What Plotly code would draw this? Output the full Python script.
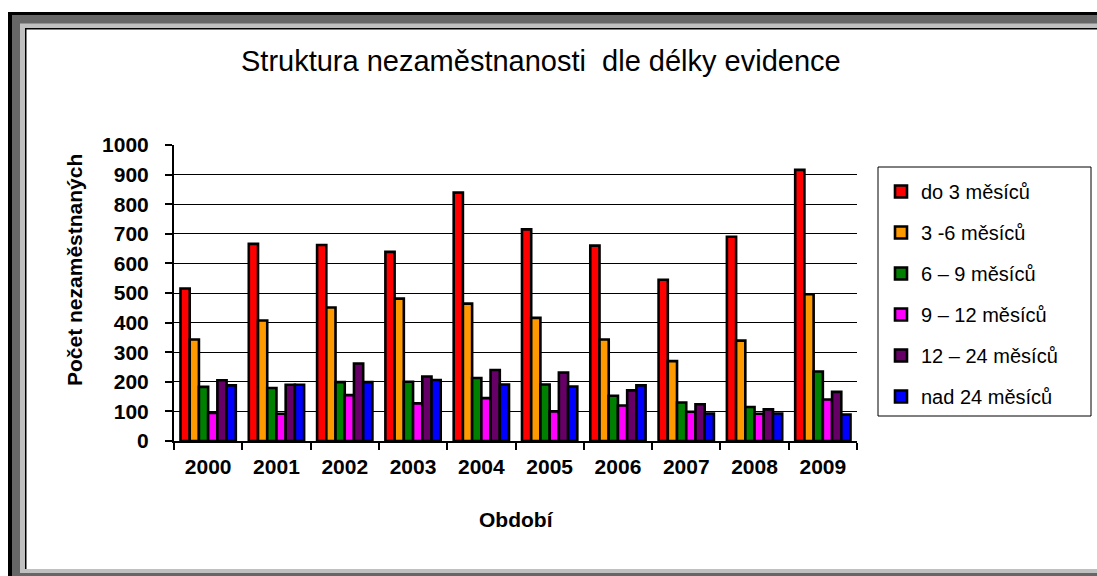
import plotly.graph_objects as go

years = ["2000", "2001", "2002", "2003", "2004", "2005", "2006", "2007", "2008", "2009"]
series_names = ["do 3 měsíců", "3 -6 měsíců", "6 – 9 měsíců", "9 – 12 měsíců", "12 – 24 měsíců", "nad 24 měsíců"]
do_3 = [515, 666, 662, 639, 839, 715, 660, 545, 690, 916]
m3_6 = [343, 407, 451, 481, 464, 416, 343, 270, 339, 496]
m6_9 = [183, 179, 199, 200, 213, 191, 153, 130, 115, 235]
m9_12 = [95, 92, 155, 127, 145, 100, 120, 99, 92, 140]
m12_24 = [205, 190, 262, 218, 240, 231, 171, 124, 107, 166]
nad_24 = [188, 190, 199, 206, 191, 184, 188, 93, 93, 89]
series_values = [do_3, m3_6, m6_9, m9_12, m12_24, nad_24]
colors = ["#ff0000", "#ff9900", "#008000", "#ff00ff", "#660066", "#0000ff"]

W, H = 1097, 576
L, R, T, B = 174, 857, 145, 441
FONT = "Liberation Sans, Arial, sans-serif"

def px(x):
    return (x - L) / (R - L)

def py(y):
    return (B - y) / (B - T)

fig = go.Figure()
for i, (name, vals) in enumerate(zip(series_names, series_values)):
    fig.add_trace(go.Bar(
        x=years, y=vals, name=name, legendgroup=f"g{i}",
        marker=dict(color=colors[i], line=dict(color="black", width=2.6)),
    ))

shapes = [
    dict(type="rect", xref="paper", yref="paper", x0=px(8), x1=px(1110), y0=py(12), y1=py(600),
         fillcolor="black", line=dict(width=0), layer="below"),
    dict(type="rect", xref="paper", yref="paper", x0=px(12), x1=px(1110), y0=py(15), y1=py(600),
         fillcolor="#666666", line=dict(width=0), layer="below"),
    dict(type="rect", xref="paper", yref="paper", x0=px(20), x1=px(1110), y0=py(23.5), y1=py(573),
         fillcolor="#c0c0c0", line=dict(width=0), layer="below"),
    dict(type="rect", xref="paper", yref="paper", x0=px(25), x1=px(1110), y0=py(28), y1=py(569),
         fillcolor="black", line=dict(width=0), layer="below"),
    dict(type="rect", xref="paper", yref="paper", x0=px(26.5), x1=px(1110), y0=py(29.5), y1=py(569),
         fillcolor="white", line=dict(width=0), layer="below"),
    # legend box
    dict(type="rect", xref="paper", yref="paper", x0=px(878), x1=px(1091), y0=py(167), y1=py(416),
         fillcolor="white", line=dict(color="black", width=1), layer="below"),
]

annotations = [
    dict(text="Struktura nezaměstnanosti  dle délky evidence", xref="paper", yref="paper",
         x=px(541), y=py(61), xanchor="center", yanchor="middle", showarrow=False,
         font=dict(family=FONT, size=29, color="black")),
    dict(text="<b>Počet nezaměstnaných</b>", xref="paper", yref="paper",
         x=px(74), y=py(270), xanchor="center", yanchor="middle", textangle=-90, showarrow=False,
         font=dict(family=FONT, size=21, color="black")),
    dict(text="<b>Období</b>", xref="paper", yref="paper",
         x=px(516), y=py(519), xanchor="center", yanchor="middle", showarrow=False,
         font=dict(family=FONT, size=21, color="black")),
]

fig.update_layout(
    width=W, height=H,
    margin=dict(l=L, r=W - R, t=T, b=H - B, pad=0),
    paper_bgcolor="white", plot_bgcolor="rgba(0,0,0,0)",
    barmode="group", bargap=0.19, bargroupgap=0,
    shapes=shapes, annotations=annotations,
    showlegend=True,
    legend=dict(x=px(881), y=py(172), xanchor="left", yanchor="top",
                bgcolor="rgba(0,0,0,0)", borderwidth=0,
                font=dict(family=FONT, size=20, color="black"),
                tracegroupgap=12, itemwidth=30, traceorder="grouped"),
    font=dict(family=FONT, color="black"),
)
fig.update_yaxes(range=[0, 1000], dtick=100, showgrid=True, gridcolor="black", gridwidth=1,
                 showline=True, linecolor="black", linewidth=2, ticks="outside", ticklen=7,
                 tickcolor="black", tickwidth=2, zeroline=False, ticklabelstandoff=12,
                 tickfont=dict(family=FONT, size=21, color="black", weight="bold"))
fig.update_xaxes(showline=True, linecolor="black", linewidth=2, ticks="outside", ticklen=7,
                 tickcolor="black", tickwidth=2, tickson="boundaries", showgrid=False,
                 ticklabelstandoff=6,
                 tickfont=dict(family=FONT, size=21, color="black", weight="bold"))

fig.write_html("out.html", config={"displayModeBar": False},
               post_script="document.body.style.margin='0';")
